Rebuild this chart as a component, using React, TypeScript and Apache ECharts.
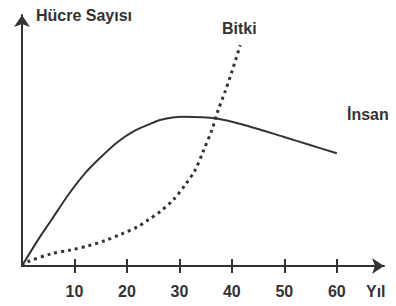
import React, { useEffect, useRef } from "react";
import * as echarts from "echarts";

const yearTicks = [10, 20, 30, 40, 50, 60];

const insanYears = [0, 3.05, 5.6, 8.8, 12.0, 15.1, 18.3, 21.5, 24.0, 26.3, 30.7, 37.1, 43.5, 49.8, 54.9, 60.0];
const insanValues = [0, 10.4, 18.3, 28.3, 36.9, 43.5, 49.5, 53.9, 56.2, 58.2, 59.5, 58.8, 55.5, 51.5, 48.2, 44.9];

const bitkiYears = [0, 1.1, 5.5, 9.3, 12.6, 15.8, 18.9, 22.1, 24.0, 26.3, 28.8, 31.1, 33.0, 34.5, 36.2, 37.4, 38.7, 40.0, 41.6];
const bitkiValues = [0, 1.7, 4.8, 6.4, 8.0, 10.1, 12.7, 15.7, 18.3, 21.6, 26.3, 32.3, 38.2, 45.5, 54.2, 62.2, 69.4, 77.4, 88.0];

const labels = {
  yAxis: "Hücre Sayısı",
  xAxis: "Yıl",
  bitki: "Bitki",
  insan: "İnsan",
};

const INK = "#333333";
const FONT = "'Liberation Sans', Arial, sans-serif";

export default function App() {
  const ref = useRef<HTMLDivElement>(null);
  useEffect(() => {
    document.body.style.margin = "0";
    if (!ref.current) return;
    const chart = echarts.init(ref.current, undefined, { renderer: "svg" });
    const pair = (xs: number[], ys: number[]) => xs.map((x, i) => [x, ys[i]]);
    const xCommon = {
      type: "value" as const,
      min: 0,
      max: 69,
      position: "bottom" as const,
      splitLine: { show: false },
    };
    chart.setOption({
      animation: false,
      backgroundColor: "#ffffff",
      grid: { left: 22, right: 12, top: 15, bottom: 40, containLabel: false },
      xAxis: [
        {
          ...xCommon,
          axisLine: {
            show: true,
            symbol: ["none", "arrow"],
            symbolSize: [12, 12],
            lineStyle: { color: INK, width: 2 },
          },
          axisTick: {
            show: true,
            inside: false,
            length: 7,
            customValues: yearTicks,
            lineStyle: { color: INK, width: 2 },
          },
          axisLabel: {
            show: true,
            customValues: yearTicks,
            margin: 17,
            color: INK,
            fontSize: 16,
            fontWeight: "bold",
            fontFamily: FONT,
          },
        },
        {
          ...xCommon,
          axisLine: { show: false },
          axisTick: {
            show: true,
            inside: true,
            length: 7,
            customValues: yearTicks,
            lineStyle: { color: INK, width: 2 },
          },
          axisLabel: { show: false },
        },
      ],
      yAxis: {
        type: "value",
        min: 0,
        max: 100,
        axisLine: {
          show: true,
          symbol: ["none", "arrow"],
          symbolSize: [12, 12],
          lineStyle: { color: INK, width: 2 },
        },
        axisTick: { show: false },
        axisLabel: { show: false },
        splitLine: { show: false },
      },
      series: [
        {
          name: labels.insan,
          type: "line",
          xAxisIndex: 0,
          data: pair(insanYears, insanValues),
          smooth: 0.3,
          showSymbol: false,
          lineStyle: { color: INK, width: 2 },
        },
        {
          name: labels.bitki,
          type: "line",
          xAxisIndex: 0,
          data: pair(bitkiYears, bitkiValues),
          smooth: 0.3,
          showSymbol: false,
          lineStyle: { color: INK, width: 3, type: [3, 4], cap: "butt" },
        },
      ],
      graphic: [
        {
          type: "text",
          left: 36,
          top: 7,
          style: { text: labels.yAxis, fill: INK, font: `bold 16px ${FONT}` },
        },
        {
          type: "text",
          left: 366,
          top: 283,
          style: { text: labels.xAxis, fill: INK, font: `bold 16px ${FONT}` },
        },
        {
          type: "text",
          left: 222,
          top: 20,
          style: { text: labels.bitki, fill: INK, font: `bold 16px ${FONT}` },
        },
        {
          type: "text",
          left: 347,
          top: 106,
          style: { text: labels.insan, fill: INK, font: `bold 16px ${FONT}` },
        },
      ],
    });
    return () => chart.dispose();
  }, []);
  return <div ref={ref} style={{ width: 396, height: 306 }} />;
}
